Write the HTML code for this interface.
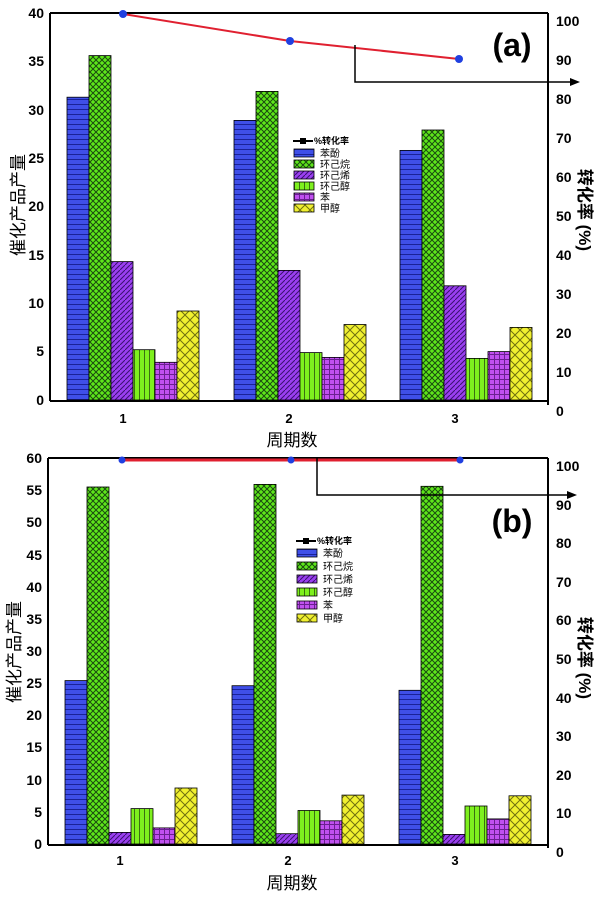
<!DOCTYPE html>
<html><head><meta charset="utf-8"><style>
body{margin:0;background:#fff}
svg text{font-family:"Liberation Sans","Noto Sans CJK SC",sans-serif}
</style></head><body>
<svg width="600" height="895" viewBox="0 0 600 895" xmlns="http://www.w3.org/2000/svg">
<defs>
<pattern id="pB" width="6" height="5" patternUnits="userSpaceOnUse"><rect width="6" height="5" fill="#3f4fe8"/><line x1="0" y1="4.5" x2="6" y2="4.5" stroke="#1a2298" stroke-width="1"/></pattern>
<pattern id="pG" width="6" height="6" patternUnits="userSpaceOnUse"><rect width="6" height="6" fill="#5ee61a"/><path d="M0 0L6 6M6 0L0 6" stroke="#1a4a10" stroke-width="1"/></pattern>
<pattern id="pP" width="5" height="5" patternUnits="userSpaceOnUse"><rect width="5" height="5" fill="#9a3ff0"/><path d="M0 5L5 0" stroke="#3a1070" stroke-width="1"/></pattern>
<pattern id="pL" width="5" height="5" patternUnits="userSpaceOnUse"><rect width="5" height="5" fill="#7ef01e"/><line x1="4.5" y1="0" x2="4.5" y2="5" stroke="#3a7010" stroke-width="1"/></pattern>
<pattern id="pM" width="5" height="5" patternUnits="userSpaceOnUse"><rect width="5" height="5" fill="#c050f0"/><path d="M0 4.5H5M4.5 0V5" stroke="#6a2090" stroke-width="1"/></pattern>
<pattern id="pY" width="10" height="10" patternUnits="userSpaceOnUse"><rect width="10" height="10" fill="#f0f030"/><path d="M0 0L10 10M10 0L0 10" stroke="#707010" stroke-width="1"/></pattern>
</defs>

<g stroke="#000" stroke-width="0.8">
<rect x="67" y="97.2" width="22" height="302.8" fill="url(#pB)"/>
<rect x="89" y="55.6" width="22" height="344.4" fill="url(#pG)"/>
<rect x="111" y="261.6" width="22" height="138.4" fill="url(#pP)"/>
<rect x="133" y="349.7" width="22" height="50.3" fill="url(#pL)"/>
<rect x="155" y="362.3" width="22" height="37.7" fill="url(#pM)"/>
<rect x="177" y="311" width="22" height="89" fill="url(#pY)"/>
<rect x="234" y="120.4" width="22" height="279.6" fill="url(#pB)"/>
<rect x="256" y="91.4" width="22" height="308.6" fill="url(#pG)"/>
<rect x="278" y="270.4" width="22" height="129.6" fill="url(#pP)"/>
<rect x="300" y="352.6" width="22" height="47.4" fill="url(#pL)"/>
<rect x="322" y="357.4" width="22" height="42.6" fill="url(#pM)"/>
<rect x="344" y="324.5" width="22" height="75.5" fill="url(#pY)"/>
<rect x="400" y="150.4" width="22" height="249.6" fill="url(#pB)"/>
<rect x="422" y="130" width="22" height="270" fill="url(#pG)"/>
<rect x="444" y="285.8" width="22" height="114.2" fill="url(#pP)"/>
<rect x="466" y="358.4" width="22" height="41.6" fill="url(#pL)"/>
<rect x="488" y="351.6" width="22" height="48.4" fill="url(#pM)"/>
<rect x="510" y="327.4" width="22" height="72.6" fill="url(#pY)"/>
</g>
<line x1="50" y1="13" x2="548" y2="13" stroke="#000" stroke-width="2"/>
<line x1="50" y1="13" x2="50" y2="401" stroke="#000" stroke-width="2"/>
<line x1="50" y1="401" x2="548" y2="401" stroke="#000" stroke-width="2"/>
<line x1="548" y1="13" x2="548" y2="405" stroke="#000" stroke-width="2"/>
<polyline points="123,14 290,41 459,59" stroke="#e02030" stroke-width="2" fill="none"/>
<circle cx="123" cy="14" r="4" fill="#2040e0"/><circle cx="290" cy="41" r="4" fill="#2040e0"/><circle cx="459" cy="59" r="4" fill="#2040e0"/>
<polyline points="355,45 355,82 572,82" stroke="#000" stroke-width="1.5" fill="none"/>
<path d="M580 82L570 78L570 86Z" fill="#000"/>
<text x="512" y="56" font-size="32" font-weight="bold" text-anchor="middle">(a)</text>
<g font-size="14" font-weight="bold" text-anchor="end">
<text x="44" y="18">40</text><text x="44" y="66">35</text><text x="44" y="115">30</text><text x="44" y="163">25</text><text x="44" y="211">20</text><text x="44" y="260">15</text><text x="44" y="308">10</text><text x="44" y="356">5</text><text x="44" y="405">0</text>
</g>
<g font-size="14" font-weight="bold">
<text x="556" y="26">100</text><text x="556" y="65">90</text><text x="556" y="104">80</text><text x="556" y="143">70</text><text x="556" y="182">60</text><text x="556" y="221">50</text><text x="556" y="260">40</text><text x="556" y="299">30</text><text x="556" y="338">20</text><text x="556" y="377">10</text><text x="556" y="416">0</text>
</g>
<g font-size="13" font-weight="bold" text-anchor="middle">
<text x="123" y="423">1</text><text x="289" y="423">2</text><text x="455" y="423">3</text>
</g>
<text x="292" y="446" font-size="17" text-anchor="middle">周期数</text>
<text transform="translate(24,205) rotate(-90)" font-size="17" text-anchor="middle">催化产品产量</text>
<text transform="translate(579,210) rotate(90)" font-size="17" font-weight="bold" text-anchor="middle">转化率 (%)</text>
<g font-size="10" stroke-width="0.8">
<line x1="293" y1="141" x2="313" y2="141" stroke="#000" stroke-width="2"/><rect x="300" y="138" width="6" height="6" fill="#000"/><text x="314" y="144" font-size="9" font-weight="bold">%转化率</text>
<rect x="294" y="149" width="20" height="8" fill="url(#pB)" stroke="#000"/><text x="320" y="157">苯酚</text>
<rect x="294" y="160" width="20" height="8" fill="url(#pG)" stroke="#000"/><text x="320" y="168">环己烷</text>
<rect x="294" y="171" width="20" height="8" fill="url(#pP)" stroke="#000"/><text x="320" y="179">环己烯</text>
<rect x="294" y="182" width="20" height="8" fill="url(#pL)" stroke="#000"/><text x="320" y="190">环己醇</text>
<rect x="294" y="193" width="20" height="8" fill="url(#pM)" stroke="#000"/><text x="320" y="201">苯</text>
<rect x="294" y="204" width="20" height="8" fill="url(#pY)" stroke="#000"/><text x="320" y="212">甲醇</text>
</g>

<g stroke="#000" stroke-width="0.8">
<rect x="65" y="680.6" width="22" height="163.4" fill="url(#pB)"/>
<rect x="87" y="487" width="22" height="357" fill="url(#pG)"/>
<rect x="109" y="832.4" width="22" height="11.6" fill="url(#pP)"/>
<rect x="131" y="808.6" width="22" height="35.4" fill="url(#pL)"/>
<rect x="153" y="827.9" width="22" height="16.1" fill="url(#pM)"/>
<rect x="175" y="788" width="22" height="56" fill="url(#pY)"/>
<rect x="232" y="685.7" width="22" height="158.3" fill="url(#pB)"/>
<rect x="254" y="484.4" width="22" height="359.6" fill="url(#pG)"/>
<rect x="276" y="833.7" width="22" height="10.3" fill="url(#pP)"/>
<rect x="298" y="810.5" width="22" height="33.5" fill="url(#pL)"/>
<rect x="320" y="820.8" width="22" height="23.2" fill="url(#pM)"/>
<rect x="342" y="795.1" width="22" height="48.9" fill="url(#pY)"/>
<rect x="399" y="690.3" width="22" height="153.7" fill="url(#pB)"/>
<rect x="421" y="486.3" width="22" height="357.7" fill="url(#pG)"/>
<rect x="443" y="834.4" width="22" height="9.6" fill="url(#pP)"/>
<rect x="465" y="806" width="22" height="38" fill="url(#pL)"/>
<rect x="487" y="818.9" width="22" height="25.1" fill="url(#pM)"/>
<rect x="509" y="795.8" width="22" height="48.2" fill="url(#pY)"/>
</g>
<line x1="48" y1="458" x2="548" y2="458" stroke="#000" stroke-width="2"/>
<line x1="48" y1="458" x2="48" y2="845" stroke="#000" stroke-width="2"/>
<line x1="48" y1="845" x2="548" y2="845" stroke="#000" stroke-width="2"/>
<line x1="548" y1="458" x2="548" y2="848" stroke="#000" stroke-width="2"/>
<line x1="122" y1="460" x2="459" y2="460" stroke="#e02030" stroke-width="3"/>
<circle cx="122" cy="460" r="3.5" fill="#2040e0"/><circle cx="291" cy="460" r="3.5" fill="#2040e0"/><circle cx="460" cy="460" r="3.5" fill="#2040e0"/>
<polyline points="317,458 317,495 570,495" stroke="#000" stroke-width="1.5" fill="none"/>
<path d="M577 495L567 491L567 499Z" fill="#000"/>
<text x="512" y="532" font-size="32" font-weight="bold" text-anchor="middle">(b)</text>
<g font-size="14" font-weight="bold" text-anchor="end">
<text x="42" y="463">60</text><text x="42" y="495">55</text><text x="42" y="527">50</text><text x="42" y="560">45</text><text x="42" y="592">40</text><text x="42" y="624">35</text><text x="42" y="656">30</text><text x="42" y="688">25</text><text x="42" y="720">20</text><text x="42" y="752">15</text><text x="42" y="785">10</text><text x="42" y="817">5</text><text x="42" y="849">0</text>
</g>
<g font-size="14" font-weight="bold">
<text x="556" y="471">100</text><text x="556" y="510">90</text><text x="556" y="548">80</text><text x="556" y="587">70</text><text x="556" y="625">60</text><text x="556" y="664">50</text><text x="556" y="703">40</text><text x="556" y="741">30</text><text x="556" y="780">20</text><text x="556" y="818">10</text><text x="556" y="857">0</text>
</g>
<g font-size="13" font-weight="bold" text-anchor="middle">
<text x="120" y="865">1</text><text x="288" y="865">2</text><text x="455" y="865">3</text>
</g>
<text x="292" y="889" font-size="17" text-anchor="middle">周期数</text>
<text transform="translate(20,652) rotate(-90)" font-size="17" text-anchor="middle">催化产品产量</text>
<text transform="translate(579,658) rotate(90)" font-size="17" font-weight="bold" text-anchor="middle">转化率 (%)</text>
<g font-size="10" stroke-width="0.8">
<line x1="296" y1="541" x2="316" y2="541" stroke="#000" stroke-width="2"/><rect x="303" y="538" width="6" height="6" fill="#000"/><text x="317" y="544" font-size="9" font-weight="bold">%转化率</text>
<rect x="297" y="549" width="20" height="8" fill="url(#pB)" stroke="#000"/><text x="323" y="557">苯酚</text>
<rect x="297" y="562" width="20" height="8" fill="url(#pG)" stroke="#000"/><text x="323" y="570">环己烷</text>
<rect x="297" y="575" width="20" height="8" fill="url(#pP)" stroke="#000"/><text x="323" y="583">环己烯</text>
<rect x="297" y="588" width="20" height="8" fill="url(#pL)" stroke="#000"/><text x="323" y="596">环己醇</text>
<rect x="297" y="601" width="20" height="8" fill="url(#pM)" stroke="#000"/><text x="323" y="609">苯</text>
<rect x="297" y="614" width="20" height="8" fill="url(#pY)" stroke="#000"/><text x="323" y="622">甲醇</text>
</g>
</svg>
</body></html>
